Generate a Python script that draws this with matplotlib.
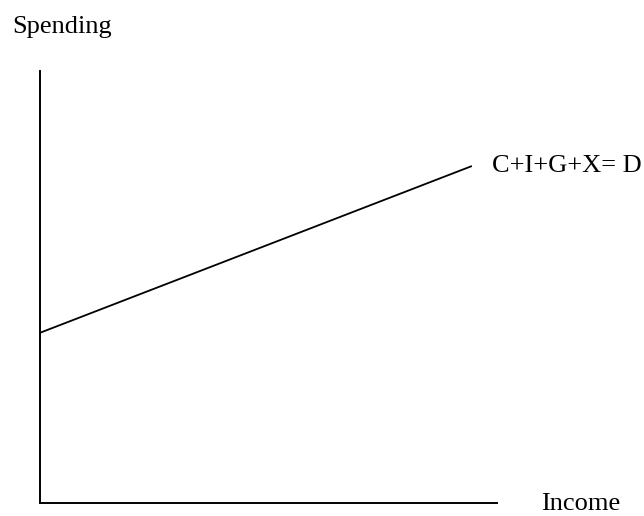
import matplotlib
matplotlib.use('Agg')
import matplotlib.pyplot as plt

# schematic aggregate demand line: spending vs income
income = [0.0, 9.45]
spending = [3.94, 7.80]
line_label = 'C+I+G+X= D'
x_label = 'Income'
y_label = 'Spending'

plt.rcParams['font.family'] = ['Liberation Serif', 'DejaVu Serif']

fig = plt.figure(figsize=(6.44, 5.16), dpi=100)
ax = fig.add_axes([40/644, 13/516, 457/644, 432/516])

ax.plot(income, spending, color='black', lw=1.3, solid_capstyle='butt')
ax.set_xlim(0, 10)
ax.set_ylim(0, 10)

for side in ['top', 'right']:
    ax.spines[side].set_visible(False)
for side in ['left', 'bottom']:
    ax.spines[side].set_linewidth(1.4)
ax.set_xticks([])
ax.set_yticks([])

fig.text(12/644, 1 - 33/516, y_label, fontsize=19, ha='left', va='baseline')
fig.text(492/644, 1 - 172/516, line_label, fontsize=19, ha='left', va='baseline')
fig.text(541/644, 1 - 510/516, x_label, fontsize=19, ha='left', va='baseline')

fig.savefig('out.png', dpi=100)
